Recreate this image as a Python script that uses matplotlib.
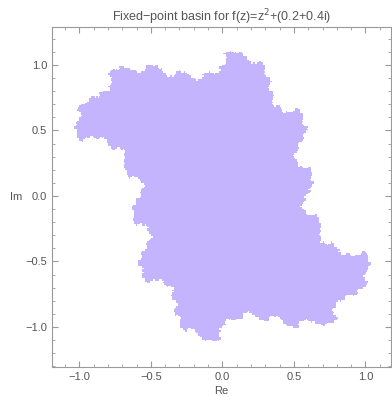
import numpy as np
import matplotlib.pyplot as plt
from matplotlib.colors import ListedColormap
from matplotlib.ticker import MultipleLocator

plt.rcParams['font.family'] = ['Liberation Sans', 'DejaVu Sans']

# parameter of the map f(z) = z^2 + c
c = 0.2 + 0.4j
n_iter = 200
escape_radius = 2.0
grid_n = 260

# plot range
x_range = (-1.19, 1.18)
y_range = (-1.305, 1.29)

x_ticks = [-1.0, -0.5, 0.0, 0.5, 1.0]
y_ticks = [-1.0, -0.5, 0.0, 0.5, 1.0]

fill_color = '#c4b4fd'
axis_color = '#9a9a9a'
label_color = '#555555'

# Cuenca del punto fijo atractor
xs = np.linspace(x_range[0], x_range[1], grid_n)
ys = np.linspace(y_range[0], y_range[1], grid_n)
X, Y = np.meshgrid(xs, ys)
z = X + 1j * Y
inside = np.ones(z.shape, dtype=bool)
for i in range(n_iter):
    z = np.where(inside, z * z + c, z)
    inside &= np.abs(z) <= escape_radius

mask = np.ma.masked_where(~inside, np.ones(z.shape))

fig, ax = plt.subplots(figsize=(3.92, 3.97), dpi=100)
fig.subplots_adjust(left=0.133, right=0.998, bottom=0.076, top=0.932)

ax.imshow(mask, extent=(xs[0], xs[-1], ys[0], ys[-1]), origin='lower',
          cmap=ListedColormap([fill_color]), aspect='auto', interpolation='nearest')
ax.set_xlim(*x_range)
ax.set_ylim(*y_range)

ax.set_xticks(x_ticks)
ax.set_yticks(y_ticks)
ax.xaxis.set_minor_locator(MultipleLocator(0.1))
ax.yaxis.set_minor_locator(MultipleLocator(0.1))
ax.tick_params(which='both', direction='in', top=True, right=True,
               color=axis_color, labelcolor=label_color, labelsize=8,
               labeltop=False, labelright=False)
ax.tick_params(which='major', length=4, width=0.8)
ax.tick_params(which='minor', length=2, width=0.6)
ax.set_xticklabels([f'{v:.1f}'.replace('-', '\u2212') for v in x_ticks])
ax.set_yticklabels([f'{v:.1f}'.replace('-', '\u2212') for v in y_ticks])
for s in ax.spines.values():
    s.set_color(axis_color)
    s.set_linewidth(0.8)

ax.set_xlabel('Re', color=label_color, fontsize=8, labelpad=3)
ax.set_ylabel('Im', color=label_color, fontsize=8, rotation=0, labelpad=7, va='center')
ax.set_title('Fixed\u2212point basin for f(z)=z$^2$+(0.2+0.4i)', color=label_color,
             fontsize=9, pad=3)

plt.savefig('out.png', dpi=100)
